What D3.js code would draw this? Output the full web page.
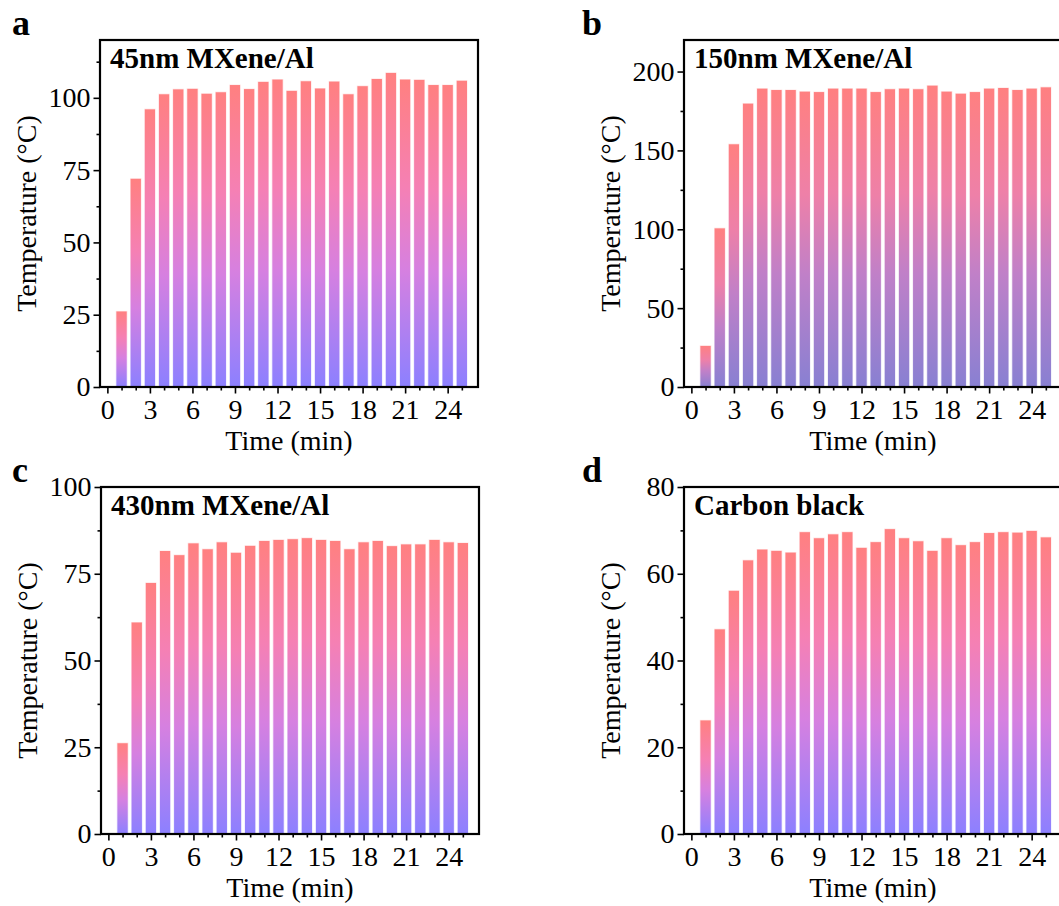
<!DOCTYPE html>
<html>
<head>
<meta charset="utf-8">
<script src="https://cdn.jsdelivr.net/npm/d3@7"></script>
<style>
  body { margin: 0; background: #fff; }
  svg { display: block; }
  .tick line { stroke: #000; stroke-width: 1.6px; }
  .domain { stroke: none; }
</style>
</head>
<body>
<svg id="chart" width="1059" height="906"></svg>
<script>
// time points (min)
var timeMin = [1, 2, 3, 4, 5, 6, 7, 8, 9, 10, 11, 12, 13, 14, 15, 16, 17, 18, 19, 20, 21, 22, 23, 24, 25];
var xTicks = [0, 3, 6, 9, 12, 15, 18, 21, 24];

// temperatures (°C)
var temp45 = [26.3, 72.2, 96.2, 101.4, 103.1, 103.3, 101.6, 102.1, 104.6, 103.2, 105.7, 106.5, 102.6,
              105.9, 103.4, 105.8, 101.4, 104.2, 106.7, 108.8, 106.5, 106.4, 104.6, 104.6, 106.1];
var temp150 = [26.4, 100.9, 154.2, 180.0, 189.5, 188.6, 188.6, 187.6, 187.3, 189.5, 189.5, 189.5, 187.3,
               189.1, 189.5, 189.1, 191.4, 187.6, 186.3, 187.3, 189.5, 189.9, 188.6, 189.5, 190.3];
var temp430 = [26.3, 61.1, 72.5, 81.7, 80.5, 83.9, 82.2, 84.2, 81.2, 83.2, 84.6, 84.9, 85.1,
               85.4, 84.9, 84.6, 82.2, 84.2, 84.6, 83.1, 83.6, 83.6, 84.9, 84.2, 84.0];
var tempCB = [26.3, 47.3, 56.2, 63.2, 65.7, 65.4, 65.0, 69.7, 68.3, 69.2, 69.7, 66.1, 67.4,
              70.4, 68.3, 67.6, 65.4, 68.3, 66.7, 67.4, 69.5, 69.7, 69.6, 70.0, 68.5];

var panelLetters = ["a", "b", "c", "d"];
var panelTitles = ["45nm MXene/Al", "150nm MXene/Al", "430nm MXene/Al", "Carbon black"];
var yMax = [120, 220, 100, 80];
var yTicksA = [0, 25, 50, 75, 100];
var yTicksB = [0, 50, 100, 150, 200];
var yTicksC = [0, 25, 50, 75, 100];
var yTicksD = [0, 20, 40, 60, 80];

var FONT = "'Liberation Serif', 'Times New Roman', serif";
var svg = d3.select("#chart");
var W = 378, H = 347;

var panels = [
  {left: 100, top: 40, data: temp45, ticks: yTicksA, grad: ["#ff8080", "#f580b4", "#d680e0", "#8c80ff"]},
  {left: 684, top: 40, data: temp150, ticks: yTicksB, grad: ["#ff8080", "#ee80a8", "#c080c8", "#8880d2"]},
  {left: 101, top: 487, data: temp430, ticks: yTicksC, grad: ["#ff8080", "#f580b4", "#d680e0", "#8c80ff"]},
  {left: 684, top: 487, data: tempCB, ticks: yTicksD, grad: ["#ff8080", "#f580b4", "#d680e0", "#8c80ff"]}
];

var defs = svg.append("defs");

function styleTicks(sel) {
  sel.selectAll(".tick text")
    .style("font-family", FONT)
    .style("font-size", "28px")
    .style("fill", "#000");
}

panels.forEach(function(p, i) {
  var gid = "grad" + i;
  var lg = defs.append("linearGradient").attr("id", gid)
    .attr("x1", 0).attr("y1", 0).attr("x2", 0).attr("y2", 1);
  var offs = [0, 0.35, 0.62, 1];
  p.grad.forEach(function(c, k) {
    lg.append("stop").attr("offset", offs[k]).attr("stop-color", c);
  });

  var x = d3.scaleLinear().domain([-0.52, 26.14]).range([p.left, p.left + W]);
  var y = d3.scaleLinear().domain([0, yMax[i]]).range([p.top + H, p.top]);
  var g = svg.append("g");

  // bars
  var bw = (x(1) - x(0)) * 0.8;
  g.selectAll("rect.bar").data(p.data).enter().append("rect")
    .attr("class", "bar")
    .attr("x", function(d, j) { return x(timeMin[j]) - bw / 2; })
    .attr("y", function(d) { return y(d); })
    .attr("width", bw)
    .attr("height", function(d) { return y(0) - y(d); })
    .attr("fill", "url(#" + gid + ")")
    .attr("stroke", "#fff")
    .attr("stroke-opacity", 0.8)
    .attr("stroke-width", 1);

  // minor ticks
  var yMinor = [];
  var step = p.ticks[1] - p.ticks[0];
  for (var v = step / 2; v < yMax[i]; v += step) yMinor.push(v);
  g.append("g").attr("transform", "translate(" + p.left + ",0)")
    .call(d3.axisLeft(y).tickValues(yMinor).tickSize(3.5).tickFormat(""));
  var xMinor = timeMin.filter(function(t) { return t % 3 !== 0; });
  g.append("g").attr("transform", "translate(0," + (p.top + H) + ")")
    .call(d3.axisBottom(x).tickValues(xMinor).tickSize(3.5).tickFormat(""));

  // major ticks
  g.append("g").attr("transform", "translate(" + p.left + ",0)")
    .call(d3.axisLeft(y).tickValues(p.ticks).tickSize(6.5).tickPadding(3))
    .call(styleTicks);
  g.append("g").attr("transform", "translate(0," + (p.top + H) + ")")
    .call(d3.axisBottom(x).tickValues(xTicks).tickSize(6.5).tickPadding(6))
    .call(styleTicks);

  // frame
  g.append("rect").attr("x", p.left).attr("y", p.top).attr("width", W).attr("height", H)
    .attr("fill", "none").attr("stroke", "#000").attr("stroke-width", 2.2);

  // titles
  g.append("text")
    .style("font-family", FONT).style("font-size", "29px").style("font-weight", "bold")
    .attr("x", p.left + 10).attr("y", p.top + 28).text(panelTitles[i]);
  g.append("text")
    .style("font-family", FONT).style("font-size", "28px")
    .attr("text-anchor", "middle")
    .attr("x", p.left + W / 2).attr("y", p.top + H + 63)
    .text("Time (min)");
  g.append("text")
    .style("font-family", FONT).style("font-size", "28px")
    .attr("text-anchor", "middle")
    .attr("transform", "translate(" + (p.left - 64) + "," + (p.top + H / 2) + ") rotate(-90)")
    .text("Temperature (\u00B0C)");
  g.append("text")
    .style("font-family", FONT).style("font-size", "36px").style("font-weight", "bold")
    .attr("x", p.left < 500 ? 12 : 582).attr("y", p.top - 5).text(panelLetters[i]);
});
</script>
</body>
</html>
